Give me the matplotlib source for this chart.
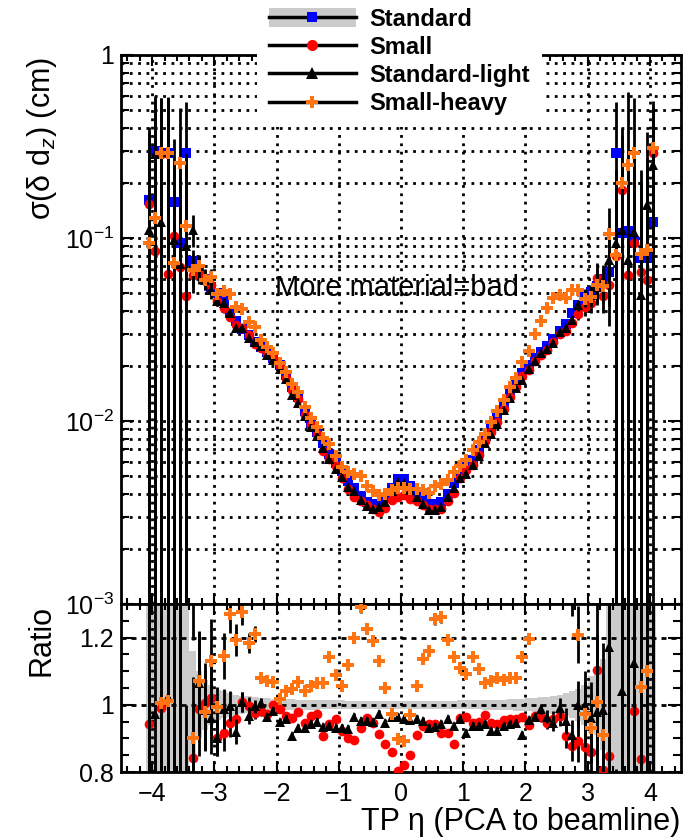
import numpy as np
import matplotlib
matplotlib.use("Agg")
import matplotlib.pyplot as plt
from matplotlib.lines import Line2D
from matplotlib.patches import Patch
from matplotlib.legend_handler import HandlerTuple
from matplotlib.ticker import FixedLocator, MultipleLocator, LogLocator, FuncFormatter, NullFormatter

plt.rcParams['font.family'] = ['Liberation Sans', 'DejaVu Sans']
plt.rcParams['mathtext.fontset'] = 'custom'
plt.rcParams['mathtext.rm'] = 'Liberation Sans'
plt.rcParams['mathtext.it'] = 'Liberation Sans:italic'
plt.rcParams['mathtext.bf'] = 'Liberation Sans:bold'

# eta binning: 0.1 wide bins between -4.1 and 4.1
eta_edges = np.round(np.linspace(-4.1, 4.1, 83), 2)
eta = 0.5 * (eta_edges[:-1] + eta_edges[1:])

# sigma(delta d_z) in cm for the Standard geometry
sigma_std = [0.162, 0.297, 0.29, 0.29, 0.158, 0.094, 0.29, 0.0745, 0.066, 0.060,
             0.054, 0.050, 0.045, 0.039, 0.035, 0.032, 0.0295, 0.027, 0.0255, 0.0238,
             0.022, 0.0203, 0.0178, 0.0153, 0.0135, 0.0114, 0.0098, 0.0087, 0.0076, 0.0066,
             0.0059, 0.0053, 0.0047, 0.0043, 0.0039, 0.0036, 0.0035, 0.0035, 0.0038, 0.0043,
             0.0048, 0.0048, 0.0044, 0.0040, 0.0037, 0.0035, 0.0035, 0.0036, 0.0040, 0.0046,
             0.0051, 0.0056, 0.0061, 0.0069, 0.0080, 0.0092, 0.0105, 0.0122, 0.0142, 0.0160,
             0.0183, 0.0202, 0.0220, 0.0237, 0.0258, 0.0282, 0.031, 0.034, 0.039, 0.043,
             0.048, 0.051, 0.055, 0.060, 0.065, 0.29, 0.106, 0.109, 0.096, 0.078,
             0.078, 0.123]

# ratios to Standard
ratio_small = [0.942, 0.286, 0.99, 0.22, 0.646, 0.734, 0.166, 0.841, 0.987, 1.005,
               1.021, 0.902, 0.917, 0.947, 0.957, 1.009, 0.997, 0.977, 0.982, 0.974,
               0.999, 0.987, 0.967, 0.961, 0.979, 0.947, 0.967, 0.972, 0.906, 0.942,
               0.957, 0.922, 0.900, 0.894, 0.932, 0.961, 0.947, 0.912, 0.884, 0.859,
               0.803, 0.821, 0.850, 0.910, 0.937, 0.944, 0.944, 0.917, 0.917, 0.884,
               0.961, 0.963, 0.947, 0.949, 0.970, 0.947, 0.944, 0.954, 0.957, 0.959,
               0.964, 0.940, 0.967, 0.963, 0.947, 0.957, 0.967, 0.907, 0.878, 0.893,
               0.873, 0.861, 1.104, 0.807, 0.849, 0.276, 1.73, 0.578, 0.983, 0.839,
               0.756, 2.36]

ratio_light = [0.68, 0.972, 0.424, 1.022, 0.62, 0.766, 0.31, 1.49, 1.066, 0.985,
               0.96, 0.902, 0.987, 0.996, 0.920, 1.008, 0.968, 0.995, 1.005, 0.965,
               0.981, 0.949, 0.957, 0.907, 0.932, 0.932, 0.942, 0.949, 0.934, 0.937,
               0.932, 0.932, 0.929, 0.964, 0.952, 0.952, 0.949, 0.974, 0.947, 0.964,
               0.964, 0.957, 0.954, 0.957, 0.952, 0.932, 0.934, 0.942, 0.957, 0.937,
               0.959, 0.917, 0.937, 0.937, 0.944, 0.922, 0.922, 0.937, 0.942, 0.947,
               0.910, 0.954, 0.964, 0.987, 0.964, 0.947, 0.990, 0.952, 0.910, 1.000,
               1.000, 0.962, 0.979, 0.986, 1.173, 0.324, 1.042, 0.697, 1.123, 0.628,
               1.95, 2.03]

ratio_heavy = [0.58, 0.431, 1.004, 1.01, 0.462, 2.72, 0.40, 0.902, 1.07, 0.98,
               1.131, 0.994, 1.146, 1.27, 1.193, 1.275, 1.185, 1.211, 1.081, 1.071,
               1.069, 1.017, 1.040, 1.047, 1.067, 1.040, 1.057, 1.064, 1.064, 1.141,
               1.090, 1.057, 1.119, 1.198, 1.290, 1.226, 1.189, 1.129, 1.050, 0.972,
               0.898, 0.893, 0.970, 1.057, 1.136, 1.159, 1.254, 1.260, 1.194, 1.143,
               1.110, 1.091, 1.143, 1.106, 1.064, 1.071, 1.079, 1.073, 1.079, 1.079,
               1.143, 1.197, 1.36, 1.48, 1.61, 1.67, 1.58, 1.38, 1.33, 1.208,
               0.972, 0.930, 1.007, 0.910, 1.61, 0.279, 1.89, 2.30, 3.02, 1.054,
               1.10, 2.52]

# relative statistical errors
std_err = [1.5, 1.0, 1.0, 1.0, 1.2, 1.5, 0.9, 0.16, 0.10, 0.075,
           0.06, 0.045, 0.04, 0.035, 0.03, 0.027, 0.025, 0.022, 0.02, 0.019,
           0.018, 0.017, 0.016, 0.016, 0.015, 0.015, 0.014, 0.014, 0.013, 0.013,
           0.013, 0.013, 0.012, 0.012, 0.012, 0.012, 0.012, 0.012, 0.012, 0.012,
           0.012, 0.012, 0.012, 0.012, 0.012, 0.012, 0.012, 0.012, 0.012, 0.012,
           0.013, 0.013, 0.013, 0.013, 0.014, 0.014, 0.015, 0.015, 0.016, 0.017,
           0.018, 0.019, 0.02, 0.022, 0.024, 0.027, 0.03, 0.034, 0.04, 0.048,
           0.06, 0.085, 0.09, 0.135, 0.35, 0.9, 1.5, 1.5, 2.0, 2.0,
           2.5, 1.5]

alt_err = [1.5, 1.0, 1.0, 1.0, 1.5, 1.0, 1.5, 0.2, 0.14, 0.12,
           0.11, 0.06, 0.06, 0.045, 0.04, 0.03, 0.025, 0.02, 0.015, 0.012,
           0.012, 0.012, 0.012, 0.012, 0.012, 0.012, 0.012, 0.012, 0.012, 0.012,
           0.012, 0.012, 0.012, 0.012, 0.012, 0.012, 0.012, 0.012, 0.012, 0.012,
           0.012, 0.012, 0.012, 0.012, 0.012, 0.012, 0.012, 0.012, 0.012, 0.012,
           0.012, 0.012, 0.012, 0.012, 0.012, 0.012, 0.012, 0.012, 0.012, 0.012,
           0.012, 0.012, 0.012, 0.015, 0.02, 0.025, 0.03, 0.04, 0.05, 0.07,
           0.1, 0.11, 0.2, 0.2, 0.4, 1.5, 1.0, 1.5, 1.0, 1.5,
           1.5, 0.8]

names = ['Standard', 'Small', 'Standard-light', 'Small-heavy']
colors = ['#0000ff', '#ff0000', '#000000', '#ff7410']
markers = ['s', 'o', '^', 'P']
msizes = [6.8, 7.0, 7.8, 8.0]
band_gray = '#cbcbcb'

sigma_std = np.array(sigma_std)
std_err = np.array(std_err)
alt_err = np.array(alt_err)
ratios = [np.array(ratio_small), np.array(ratio_light), np.array(ratio_heavy)]
sigmas = [sigma_std] + [sigma_std * r for r in ratios]
rel_errs = [std_err, alt_err, alt_err, alt_err]

W, H = 695, 839
fig = plt.figure(figsize=(W / 100, H / 100), dpi=100)
L, R = 121 / W, 681 / W
ax = fig.add_axes([L, 1 - 604 / H, R - L, (604 - 55) / H])
rax = fig.add_axes([L, 1 - 772 / H, R - L, (772 - 604) / H])

dot = (0, (1, 2))
dash = (0, (1.8, 1.8))

# --- upper panel: resolution vs eta
for v, err, c, m, ms in zip(sigmas, rel_errs, colors, markers, msizes):
    hi = v * err
    lo = np.minimum(hi, v * 0.9999)
    ax.errorbar(eta, v, yerr=[lo, hi], fmt='none', ecolor='k', elinewidth=2.0,
                capsize=0, zorder=3)
    ax.plot(eta, v, ls='none', marker=m, ms=ms, color=c, mec=c, mew=0, zorder=3)

ax.set_yscale('log')
ax.set_xlim(-4.5, 4.5)
ax.set_ylim(1e-3, 1)
ax.set_axisbelow('line')
ax.yaxis.set_major_locator(LogLocator(base=10, numticks=10))
ax.yaxis.set_minor_locator(LogLocator(base=10, subs=np.arange(2, 10), numticks=20))
ax.yaxis.set_minor_formatter(NullFormatter())
ax.yaxis.set_major_formatter(FuncFormatter(
    lambda v, p: '1' if abs(v - 1) < 1e-9 else r'$10^{%d}$' % round(np.log10(v))))
ax.xaxis.set_major_locator(MultipleLocator(1))
ax.xaxis.set_minor_locator(MultipleLocator(0.2))
ax.tick_params(axis='x', labelbottom=False)
ax.grid(True, which='both', axis='y', color='k', lw=2.0, ls=dot)
ax.grid(True, which='major', axis='x', color='k', lw=2.0, ls=dot)

ax.text(-2.03, 0.053, 'More material=bad', fontsize=21, va='center', ha='left')

# --- lower panel: ratio to Standard
rax.stairs(1 + std_err, eta_edges, baseline=1 - std_err, fill=True,
           color=band_gray, lw=0, zorder=1)
for r, c, m, ms in zip(ratios, colors[1:], markers[1:], msizes[1:]):
    re = r * alt_err
    rax.errorbar(eta, r, yerr=re, fmt='none', ecolor='k', elinewidth=2.0,
                 capsize=0, zorder=3)
    rax.plot(eta, r, ls='none', marker=m, ms=ms, color=c, mec=c, mew=0, zorder=3)

rax.set_xlim(-4.5, 4.5)
rax.set_ylim(0.8, 1.3)
rax.set_axisbelow('line')
rax.yaxis.set_major_locator(FixedLocator([0.8, 1.0, 1.2]))
rax.yaxis.set_major_formatter(FuncFormatter(lambda v, p: {0.8: '0.8', 1.0: '1', 1.2: '1.2'}.get(round(v, 1), '')))
rax.yaxis.set_minor_locator(MultipleLocator(0.05))
rax.xaxis.set_major_locator(MultipleLocator(1))
rax.xaxis.set_minor_locator(MultipleLocator(0.2))
rax.grid(True, which='major', axis='x', color='k', lw=2.0, ls=dot)
rax.grid(True, which='major', axis='y', color='k', lw=2.0, ls=dash)

for a in (ax, rax):
    for s in a.spines.values():
        s.set_linewidth(2.0)
    a.tick_params(which='both', direction='in', top=True, right=True,
                  width=1.5, labelsize=18, color='k')
    a.tick_params(axis='y', which='major', length=9.5, pad=5)
    a.tick_params(axis='y', which='minor', length=5.5)
    a.tick_params(axis='x', which='major', length=8, pad=7)
    a.tick_params(axis='x', which='minor', length=4)

# axis titles
fig.text(42 / W, 1 - 57 / H, r'σ(δ d$_{z}$) (cm)', rotation=90, ha='center', va='top', fontsize=22)
fig.text(42 / W, 1 - 605 / H, 'Ratio', rotation=90, ha='center', va='top', fontsize=22)
fig.text(680 / W, 1 - 822 / H, 'TP η (PCA to beamline)', ha='right', va='center', fontsize=22)

# legend
handles = []
for i, (c, m, ms) in enumerate(zip(colors, markers, msizes)):
    line = Line2D([], [], color='k', lw=2.5, marker=m, ms=ms + 1, mfc=c, mec=c, mew=0)
    if i == 0:
        handles.append((Patch(facecolor=band_gray, edgecolor='none'), line))
    else:
        handles.append(line)
leg = ax.legend(handles, names, loc='upper left',
                bbox_to_anchor=(257 / W, 1 + 4 / H), bbox_transform=fig.transFigure,
                prop=dict(weight='bold', size=17), frameon=True, facecolor='white',
                edgecolor='none', framealpha=1, fancybox=False, handlelength=3.7,
                handleheight=0.85, handletextpad=0.55, labelspacing=0.22,
                borderpad=0.5, borderaxespad=0,
                handler_map={tuple: HandlerTuple(ndivide=1, pad=0)})
leg.set_zorder(10)

fig.savefig('out.png', dpi=100)
